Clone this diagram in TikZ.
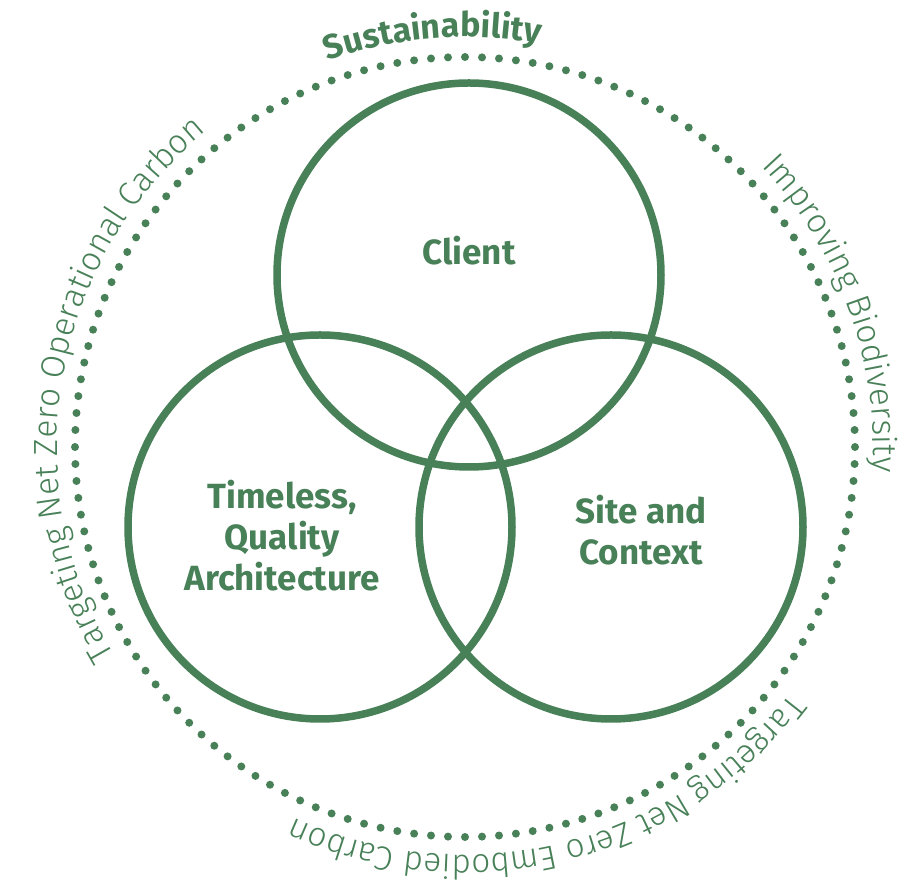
\documentclass[tikz,border=0pt]{standalone}
\usepackage{fontspec}
\setmainfont{Fira Sans}
\newfontfamily\thinfont{Fira Sans Light}
\usetikzlibrary{decorations.text}
\definecolor{leaf}{RGB}{72,128,88}

\begin{document}
\begin{tikzpicture}[x=1pt,y=1pt,
  ring/.style={circle,draw=leaf,line width=7.5pt,inner sep=0pt,minimum size=384pt},
  venntext/.style={text=leaf,font=\bfseries\fontsize{35}{41}\selectfont,align=center},
  arctext/.style={decorate,decoration={text along path,text align=center,text color=leaf,text={|\thinfont\fontsize{33.5}{33.5}\selectfont|#1}}}]
\useasboundingbox (0,0) rectangle (922,883);
\coordinate (o) at (465,436);
% the three circles
\node[ring] (client) at (469,608) {};
\node[ring] (quality) at (320,356) {};
\node[ring] (site) at (611,356) {};
\node[venntext] (clienttext) at (469,632) {Client};
\node[venntext] (qualitytext) at (282,347) {Timeless,\\Quality\\Architecture};
\node[venntext] (sitetext) at (641,353) {Site and\\Context};
% dotted ring
\foreach \a in {0,2.5,...,357.5}
  \fill[leaf] (o) ++(\a:390) circle[radius=4];
% texts round the ring
\path[decorate,decoration={text along path,text align=center,text color=leaf,
  text={|\bfseries\fontsize{34}{34}\selectfont|Sustainability}}]
  (o) ++(124.5:410) arc[start angle=124.5,end angle=64.5,radius=410];
\path[arctext=Improving Biodiversity] (o) ++(60:408) arc[start angle=60,end angle=-20,radius=408];
\path[arctext=Targeting Net Zero Embodied Carbon] (o) ++(-26:408) arc[start angle=-26,end angle=-126,radius=408];
\path[arctext=Targeting Net Zero Operational Carbon] (o) ++(220:408) arc[start angle=220,end angle=120,radius=408];
\end{tikzpicture}
\end{document}
